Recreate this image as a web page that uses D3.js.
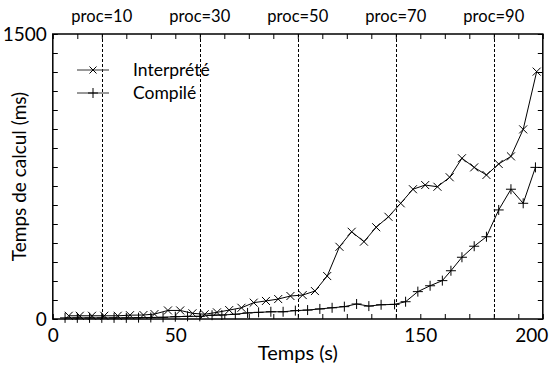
<!DOCTYPE html>
<html><head><meta charset="utf-8">
<script src="https://cdn.jsdelivr.net/npm/d3@7"></script>
<style>
html,body{margin:0;padding:0;background:#fff;}
svg{display:block;}
text{font-family:Lato,"Open Sans",sans-serif;fill:#000;}
</style></head>
<body><svg id="c" width="550" height="365"></svg>
<script>
// ---- data ----
const interpTimes = [6.5,11,16,21,26.5,31.5,37,41.5,47,52,57,62,67,72,77,82,87,92,97,102,107,112,117,122,127,132,137,142,147,152,157,162,167,172,177,182,187,192,197.5];
const interpValues = [17,17,17,17,17,20,21,26,45,45,30,25,35,47,59,86,95,105,121,126,147,226,380,459,407,483,538,609,683,705,696,746,846,798,758,816,856,998,1302];
const compTimes = [5,10,15,20,25,30,35,40,45,50,55,60,65,69,74.5,79.5,84,89,94,99,104,109,114,119,124,129,134,139.5,144,149,154,159,162.5,167,172,177,182,187,192,197];
const compValues = [6,6,6,6,6,6,7,8,9,12,14,14,20,21,25,32,35,38,38,44,47,53,59,65,79,68,75,77,91,144,175,202,254,325,383,433,574,683,609,798];
const procTimes = [20,60,100,140,180];
const procLabels = ["proc=10","proc=30","proc=50","proc=70","proc=90"];
const xTickLabels = [0,50,150,200];
const yTickLabels = [0,1500];
const seriesNames = ["Interprété","Compilé"];

// ---- layout ----
const L=52.8,R=542.8,T=34,B=319;
const svg=d3.select("#c");
const x=d3.scaleLinear().domain([0,200]).range([L,R]);
const y=d3.scaleLinear().domain([0,1500]).range([B,T]);

// proc dashed lines
svg.append("g").selectAll("line").data(procTimes).join("line")
  .attr("x1",d=>Math.round(x(d))+0.5).attr("x2",d=>Math.round(x(d))+0.5)
  .attr("y1",T).attr("y2",B)
  .attr("stroke","#000").attr("stroke-width",1).attr("stroke-dasharray","3,2");
svg.append("g").selectAll("text").data(procTimes).join("text")
  .attr("x",d=>x(d)).attr("y",22).attr("text-anchor","middle")
  .style("font-size","16.5px").text((d,i)=>procLabels[i]);

// tick axes (inward)
const xt=d3.range(0,201,10), yt=d3.range(0,1501,100);
function styleAxis(g){g.select(".domain").remove();g.selectAll("line").attr("stroke","#000").attr("stroke-width",1);}
svg.append("g").attr("transform",`translate(0,${B})`).call(d3.axisBottom(x).tickValues(xt).tickSize(-5).tickFormat("")).call(styleAxis);
svg.append("g").attr("transform",`translate(0,${T})`).call(d3.axisTop(x).tickValues(xt).tickSize(-5).tickFormat("")).call(styleAxis);
svg.append("g").attr("transform",`translate(${L},0)`).call(d3.axisLeft(y).tickValues(yt).tickSize(-5).tickFormat("")).call(styleAxis);
svg.append("g").attr("transform",`translate(${R},0)`).call(d3.axisRight(y).tickValues(yt).tickSize(-5).tickFormat("")).call(styleAxis);

// labels
const xl=svg.append("g").attr("transform",`translate(0,${B})`).call(d3.axisBottom(x).tickValues(xTickLabels).tickSize(0).tickPadding(10).tickFormat(d3.format("d")));
xl.select(".domain").remove();
xl.selectAll("text").style("font-size","19px").style("font-family","Lato").attr("fill","#000");
xl.selectAll(".tick").filter(d=>d===200).select("text").attr("text-anchor","end").attr("dx","5");
const yl=svg.append("g").attr("transform",`translate(${L},0)`).call(d3.axisLeft(y).tickValues(yTickLabels).tickSize(0).tickPadding(6).tickFormat(d3.format("d")));
yl.select(".domain").remove();
yl.selectAll("text").style("font-size","19px").style("font-family","Lato").attr("fill","#000");

svg.append("text").attr("x",(L+R)/2).attr("y",360).attr("text-anchor","middle").style("font-size","20px").text("Temps (s)");
svg.append("text").attr("transform",`translate(26,${(T+B)/2}) rotate(-90)`).attr("text-anchor","middle").style("font-size","19px").text("Temps de calcul (ms)");

// frame
svg.append("rect").attr("x",L).attr("y",T).attr("width",R-L).attr("height",B-T)
  .attr("fill","none").attr("stroke","#000").attr("stroke-width",1.5);

// series
const line=d3.line().x(d=>x(d[0])).y(d=>y(d[1]));
const interp=interpTimes.map((t,i)=>[t,interpValues[i]]);
const comp=compTimes.map((t,i)=>[t,compValues[i]]);
const timesPath=s=>`M${-s},${-s}L${s},${s}M${-s},${s}L${s},${-s}`;
const plusPath=s=>`M${-s},0L${s},0M0,${-s}L0,${s}`;
function drawSeries(data,mk,size){
  svg.append("path").datum(data).attr("d",line).attr("fill","none").attr("stroke","#000").attr("stroke-width",1);
  svg.append("g").selectAll("path").data(data).join("path")
    .attr("transform",d=>`translate(${x(d[0])},${y(d[1])})`)
    .attr("d",mk(size)).attr("stroke","#000").attr("stroke-width",1).attr("fill","none");
}
drawSeries(interp,timesPath,4);
drawSeries(comp,plusPath,5);

// legend
const leg=[{name:seriesNames[0],mk:timesPath,s:3.5,y:70},{name:seriesNames[1],mk:plusPath,s:5,y:93}];
const lg=svg.append("g");
leg.forEach(d=>{
  lg.append("line").attr("x1",77).attr("x2",109).attr("y1",d.y).attr("y2",d.y).attr("stroke","#333").attr("stroke-width",1);
  lg.append("path").attr("transform",`translate(93,${d.y})`).attr("d",d.mk(d.s)).attr("stroke","#000").attr("fill","none");
  lg.append("text").attr("x",133).attr("y",d.y+6).style("font-size","17.5px").text(d.name);
});
</script></body></html>
